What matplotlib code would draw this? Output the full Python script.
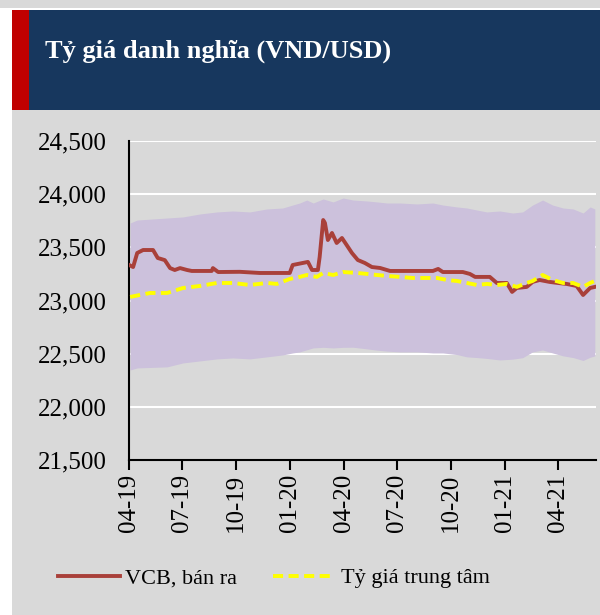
import matplotlib
matplotlib.use("Agg")
import matplotlib.pyplot as plt
import matplotlib.dates as mdates
from matplotlib.patches import Rectangle
from matplotlib.ticker import FuncFormatter
import numpy as np
import pandas as pd

start = pd.Timestamp("2019-04-01")

# VCB selling rate (days since 2019-04-01, VND)
vcb_days = [0, 7, 14, 24, 41, 49, 61, 70, 78, 87, 99, 107, 141, 143, 152, 189, 223,
            274, 279, 305, 312, 322, 325, 331, 334, 339, 346, 354, 363, 371, 380, 390,
            402, 414, 428, 445, 518, 527, 535, 569, 581, 590, 615, 627, 644, 653, 661,
            678, 688, 700, 717, 731, 746, 763, 774, 786, 794]
vcb_vals = [23335, 23315, 23447, 23475, 23475, 23400, 23380, 23305, 23287, 23305,
            23287, 23278, 23278, 23305, 23268, 23270, 23259, 23259, 23334, 23363,
            23287, 23287, 23410, 23757, 23729, 23569, 23635, 23541, 23588, 23522,
            23447, 23381, 23353, 23315, 23306, 23278, 23278, 23297, 23268, 23268,
            23250, 23222, 23222, 23165, 23165, 23081, 23118, 23128, 23175, 23193,
            23175, 23165, 23156, 23137, 23052, 23118, 23128]

# central rate
ctr_days = [2, 36, 65, 92, 121, 150, 177, 206, 235, 252, 274, 291, 303, 320, 331,
            348, 365, 389, 406, 423, 440, 462, 484, 508, 525, 542, 559, 576, 593,
            610, 627, 644, 661, 678, 688, 705, 722, 740, 757, 774, 786, 794]
ctr_vals = [23034, 23071, 23071, 23118, 23137, 23165, 23165, 23146, 23165, 23156,
            23203, 23222, 23240, 23222, 23259, 23240, 23268, 23259, 23250, 23240,
            23231, 23222, 23212, 23212, 23212, 23193, 23184, 23165, 23146, 23156,
            23146, 23156, 23128, 23165, 23184, 23240, 23193, 23165, 23165, 23128,
            23165, 23184]

# trading band (upper / lower)
up_days = [2, 14, 65, 92, 121, 150, 177, 206, 235, 262, 279, 291, 303, 314, 331,
           348, 365, 382, 406, 423, 440, 462, 491, 518, 535, 559, 576, 593, 610,
           632, 654, 671, 688, 705, 722, 740, 757, 774, 786, 794]
up_vals = [23729, 23757, 23776, 23786, 23814, 23833, 23842, 23833, 23861, 23870,
           23898, 23917, 23945, 23917, 23955, 23927, 23964, 23945, 23936, 23927,
           23917, 23917, 23908, 23917, 23898, 23880, 23870, 23851, 23833, 23842,
           23823, 23833, 23898, 23945, 23898, 23870, 23861, 23823, 23880, 23861]
lo_days = [2, 14, 65, 92, 121, 150, 177, 206, 235, 262, 279, 291, 320, 348, 377,
           406, 433, 462, 491, 518, 547, 576, 603, 632, 661, 678, 688, 705, 722,
           746, 763, 780, 789, 794]
lo_vals = [22347, 22366, 22376, 22413, 22432, 22451, 22460, 22451, 22470, 22488,
           22507, 22517, 22564, 22554, 22564, 22545, 22526, 22517, 22517, 22507,
           22507, 22470, 22460, 22441, 22451, 22470, 22517, 22535, 22507, 22470,
           22460, 22423, 22488, 22479]

tick_dates = ["2019-04-01", "2019-07-01", "2019-10-01", "2020-01-01", "2020-04-01",
              "2020-07-01", "2020-10-01", "2021-01-01", "2021-04-01"]

to_dates = lambda d: start + pd.to_timedelta(d, unit="D")
vcb_x = to_dates(vcb_days)
ctr_x = to_dates(ctr_days)
band_x = to_dates(up_days)
lo_interp = np.interp(up_days, lo_days, lo_vals)

plt.rcParams["font.family"] = ["Liberation Serif", "DejaVu Serif"]

fig = plt.figure(figsize=(6, 6.15), dpi=100, facecolor="white")

# background panels
fig.add_artist(Rectangle((0, 0.987), 1, 0.013, transform=fig.transFigure,
                         facecolor="#d9d9d9", edgecolor="none", zorder=-5))
fig.add_artist(Rectangle((0.02, 0.8211), 0.98, 0.1626, transform=fig.transFigure,
                         facecolor="#17375e", edgecolor="none", zorder=-5))
fig.add_artist(Rectangle((0.02, 0.8211), 0.0283, 0.1626, transform=fig.transFigure,
                         facecolor="#c00000", edgecolor="none", zorder=-4))
fig.add_artist(Rectangle((0.02, 0), 0.98, 0.8211, transform=fig.transFigure,
                         facecolor="#d9d9d9", edgecolor="none", zorder=-5))
fig.text(0.075, 0.917, "Tỷ giá danh nghĩa (VND/USD)", color="white",
         fontsize=19, fontweight="bold", va="center", ha="left")

ax = fig.add_axes([0.215, 0.252, 0.9933 - 0.215, 0.7707 - 0.252])
ax.set_facecolor("#d9d9d9")

ax.fill_between(band_x, lo_interp, up_vals, color="#ccc1dc", linewidth=0, zorder=2)
ax.plot(vcb_x, vcb_vals, color="#a9403a", linewidth=2.8, zorder=4,
        label="VCB, bán ra")
ax.plot(ctr_x, ctr_vals, color="#ffff00", linewidth=2.8, linestyle=(0, (2.6, 1.4)),
        zorder=5, label="Tỷ giá trung tâm")

ax.set_ylim(21500, 24500)
ax.set_yticks(np.arange(21500, 24501, 500))
ax.yaxis.set_major_formatter(FuncFormatter(lambda v, p: f"{int(v):,}"))
ax.set_xlim(start, to_dates(796))
ax.set_xticks(pd.to_datetime(tick_dates))
ax.xaxis.set_major_formatter(mdates.DateFormatter("%m-%y"))
ax.tick_params(axis="x", rotation=90, length=7, width=1.5, labelsize=18, pad=3)
ax.tick_params(axis="y", length=0, labelsize=18, pad=16)
ax.grid(axis="y", color="white", linewidth=1.5, zorder=1)
ax.set_axisbelow(True)
for s in ["top", "right"]:
    ax.spines[s].set_visible(False)
ax.spines["left"].set_linewidth(1.5)
ax.spines["bottom"].set_linewidth(1.5)

fig.legend(loc="center", bbox_to_anchor=(0.456, 0.06), ncol=2, frameon=False,
           fontsize=16, handlelength=2.8, handletextpad=0.25, columnspacing=1.6)

fig.savefig("out.png", dpi=100, facecolor="white")
